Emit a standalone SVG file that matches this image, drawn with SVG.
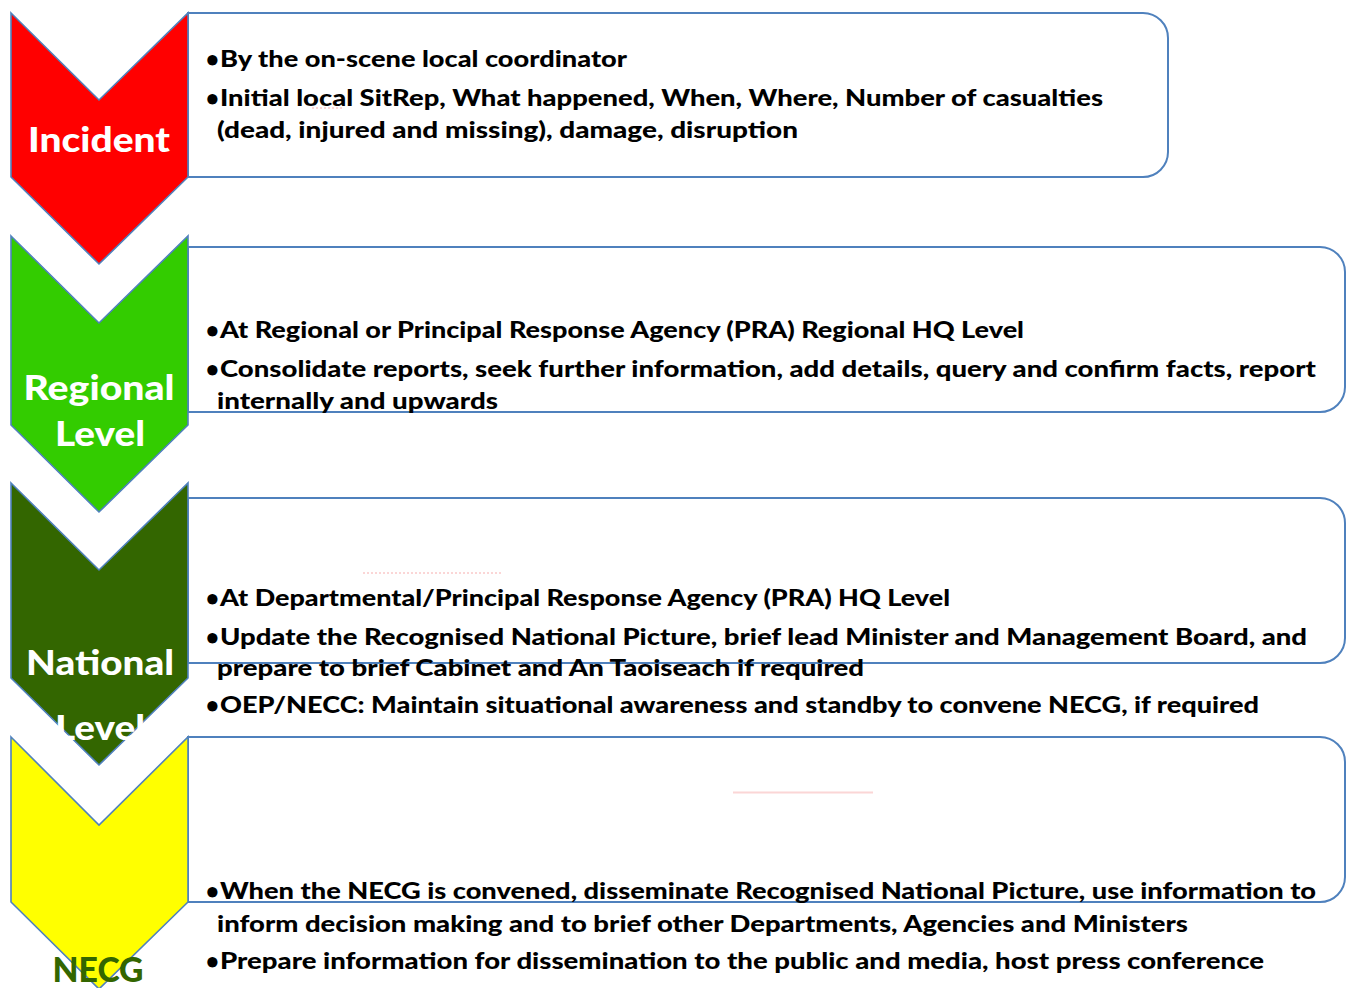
<svg xmlns="http://www.w3.org/2000/svg" width="1351" height="988" viewBox="0 0 1351 988">
  <style>
    .box { fill: #ffffff; stroke: #4f81bd; stroke-width: 2; }
    .chev { stroke: #4f81bd; stroke-width: 1.6; stroke-linejoin: miter; }
    .lbl { font-family: "Lato", "Liberation Sans", sans-serif; font-weight: 900; font-size: 35px; fill: #ffffff; text-anchor: middle; }
    .txt { font-family: "Lato", "Liberation Sans", sans-serif; font-weight: 900; font-size: 22px; fill: #000000; }
    .mark { fill: none; stroke: #fbd6d6; stroke-width: 2; }
  </style>

  <!-- detail boxes: square left edge against the chevron, rounded right corners -->
  <g id="box-incident">
    <path class="box" d="M188,13 H1143 A25,25 0 0 1 1168,38 V152 A25,25 0 0 1 1143,177 H188 Z"/>
  </g>
  <g id="box-regional">
    <path class="box" d="M188,247 H1320 A25,25 0 0 1 1345,272 V387 A25,25 0 0 1 1320,412 H188 Z"/>
  </g>
  <g id="box-national">
    <path class="box" d="M188,498 H1320 A25,25 0 0 1 1345,523 V638 A25,25 0 0 1 1320,663 H188 Z"/>
  </g>
  <g id="box-necg">
    <path class="box" d="M188,737 H1320 A25,25 0 0 1 1345,762 V877 A25,25 0 0 1 1320,902 H188 Z"/>
  </g>

  <!-- faint editing marks -->
  <g id="marks">
    <line class="mark" x1="312" y1="108" x2="342" y2="108" stroke-dasharray="2,2" stroke-width="1.5"/>
    <line class="mark" x1="363" y1="573" x2="503" y2="573" stroke-dasharray="2,2"/>
    <line class="mark" x1="733" y1="792.5" x2="873" y2="792.5"/>
  </g>

  <!-- chevrons -->
  <g id="chevron-incident">
    <polygon class="chev" fill="#ff0000" points="11,13 99,100 188,13 188,177 99,264 11,177"/>
    <text class="lbl" x="99" y="152" textLength="142" lengthAdjust="spacingAndGlyphs">Incident</text>
  </g>
  <g id="chevron-regional">
    <polygon class="chev" fill="#33cc00" points="11,236 99,323 188,236 188,425 99,512 11,425"/>
    <text class="lbl" x="99" y="400" textLength="151" lengthAdjust="spacingAndGlyphs">Regional</text>
    <text class="lbl" x="100" y="446" textLength="90" lengthAdjust="spacingAndGlyphs">Level</text>
  </g>
  <g id="chevron-national">
    <polygon class="chev" fill="#336600" points="11,483 99,570 188,483 188,678 99,765 11,678"/>
    <text class="lbl" x="100" y="675" textLength="148" lengthAdjust="spacingAndGlyphs">National</text>
    <text class="lbl" x="100" y="740" textLength="90" lengthAdjust="spacingAndGlyphs">Level</text>
  </g>
  <g id="chevron-necg">
    <polygon class="chev" fill="#ffff00" points="11,737 99,825 188,737 188,902 99,989 11,902"/>
    <text class="lbl" x="98" y="982" textLength="91" lengthAdjust="spacingAndGlyphs" style="fill:#336600">NECG</text>
  </g>

  <!-- bullet texts -->
  <g id="text-incident">
    <text class="txt" x="206" y="67">•</text>
    <text class="txt" x="220" y="67" textLength="407" lengthAdjust="spacingAndGlyphs">By the on-scene local coordinator</text>
    <text class="txt" x="206" y="106">•</text>
    <text class="txt" x="220" y="106" textLength="883" lengthAdjust="spacingAndGlyphs">Initial local SitRep, What happened, When, Where, Number of casualties</text>
    <text class="txt" x="217" y="138" textLength="581" lengthAdjust="spacingAndGlyphs">(dead, injured and missing), damage, disruption</text>
  </g>
  <g id="text-regional">
    <text class="txt" x="206" y="338">•</text>
    <text class="txt" x="220" y="338" textLength="804" lengthAdjust="spacingAndGlyphs">At Regional or Principal Response Agency (PRA) Regional HQ Level</text>
    <text class="txt" x="206" y="377">•</text>
    <text class="txt" x="220" y="377" textLength="1096" lengthAdjust="spacingAndGlyphs">Consolidate reports, seek further information, add details, query and confirm facts, report</text>
    <text class="txt" x="217" y="409" textLength="281" lengthAdjust="spacingAndGlyphs">internally and upwards</text>
  </g>
  <g id="text-national">
    <text class="txt" x="206" y="606">•</text>
    <text class="txt" x="220" y="606" textLength="730" lengthAdjust="spacingAndGlyphs">At Departmental/Principal Response Agency (PRA) HQ Level</text>
    <text class="txt" x="206" y="645">•</text>
    <text class="txt" x="220" y="645" textLength="1087" lengthAdjust="spacingAndGlyphs">Update the Recognised National Picture, brief lead Minister and Management Board, and</text>
    <text class="txt" x="217" y="676" textLength="647" lengthAdjust="spacingAndGlyphs">prepare to brief Cabinet and An Taoiseach if required</text>
    <text class="txt" x="206" y="713">•</text>
    <text class="txt" x="220" y="713" textLength="1039" lengthAdjust="spacingAndGlyphs">OEP/NECC: Maintain situational awareness and standby to convene NECG, if required</text>
  </g>
  <g id="text-necg">
    <text class="txt" x="206" y="899">•</text>
    <text class="txt" x="220" y="899" textLength="1096" lengthAdjust="spacingAndGlyphs">When the NECG is convened, disseminate Recognised National Picture, use information to</text>
    <text class="txt" x="217" y="932" textLength="971" lengthAdjust="spacingAndGlyphs">inform decision making and to brief other Departments, Agencies and Ministers</text>
    <text class="txt" x="206" y="969">•</text>
    <text class="txt" x="220" y="969" textLength="1044" lengthAdjust="spacingAndGlyphs">Prepare information for dissemination to the public and media, host press conference</text>
  </g>
</svg>
